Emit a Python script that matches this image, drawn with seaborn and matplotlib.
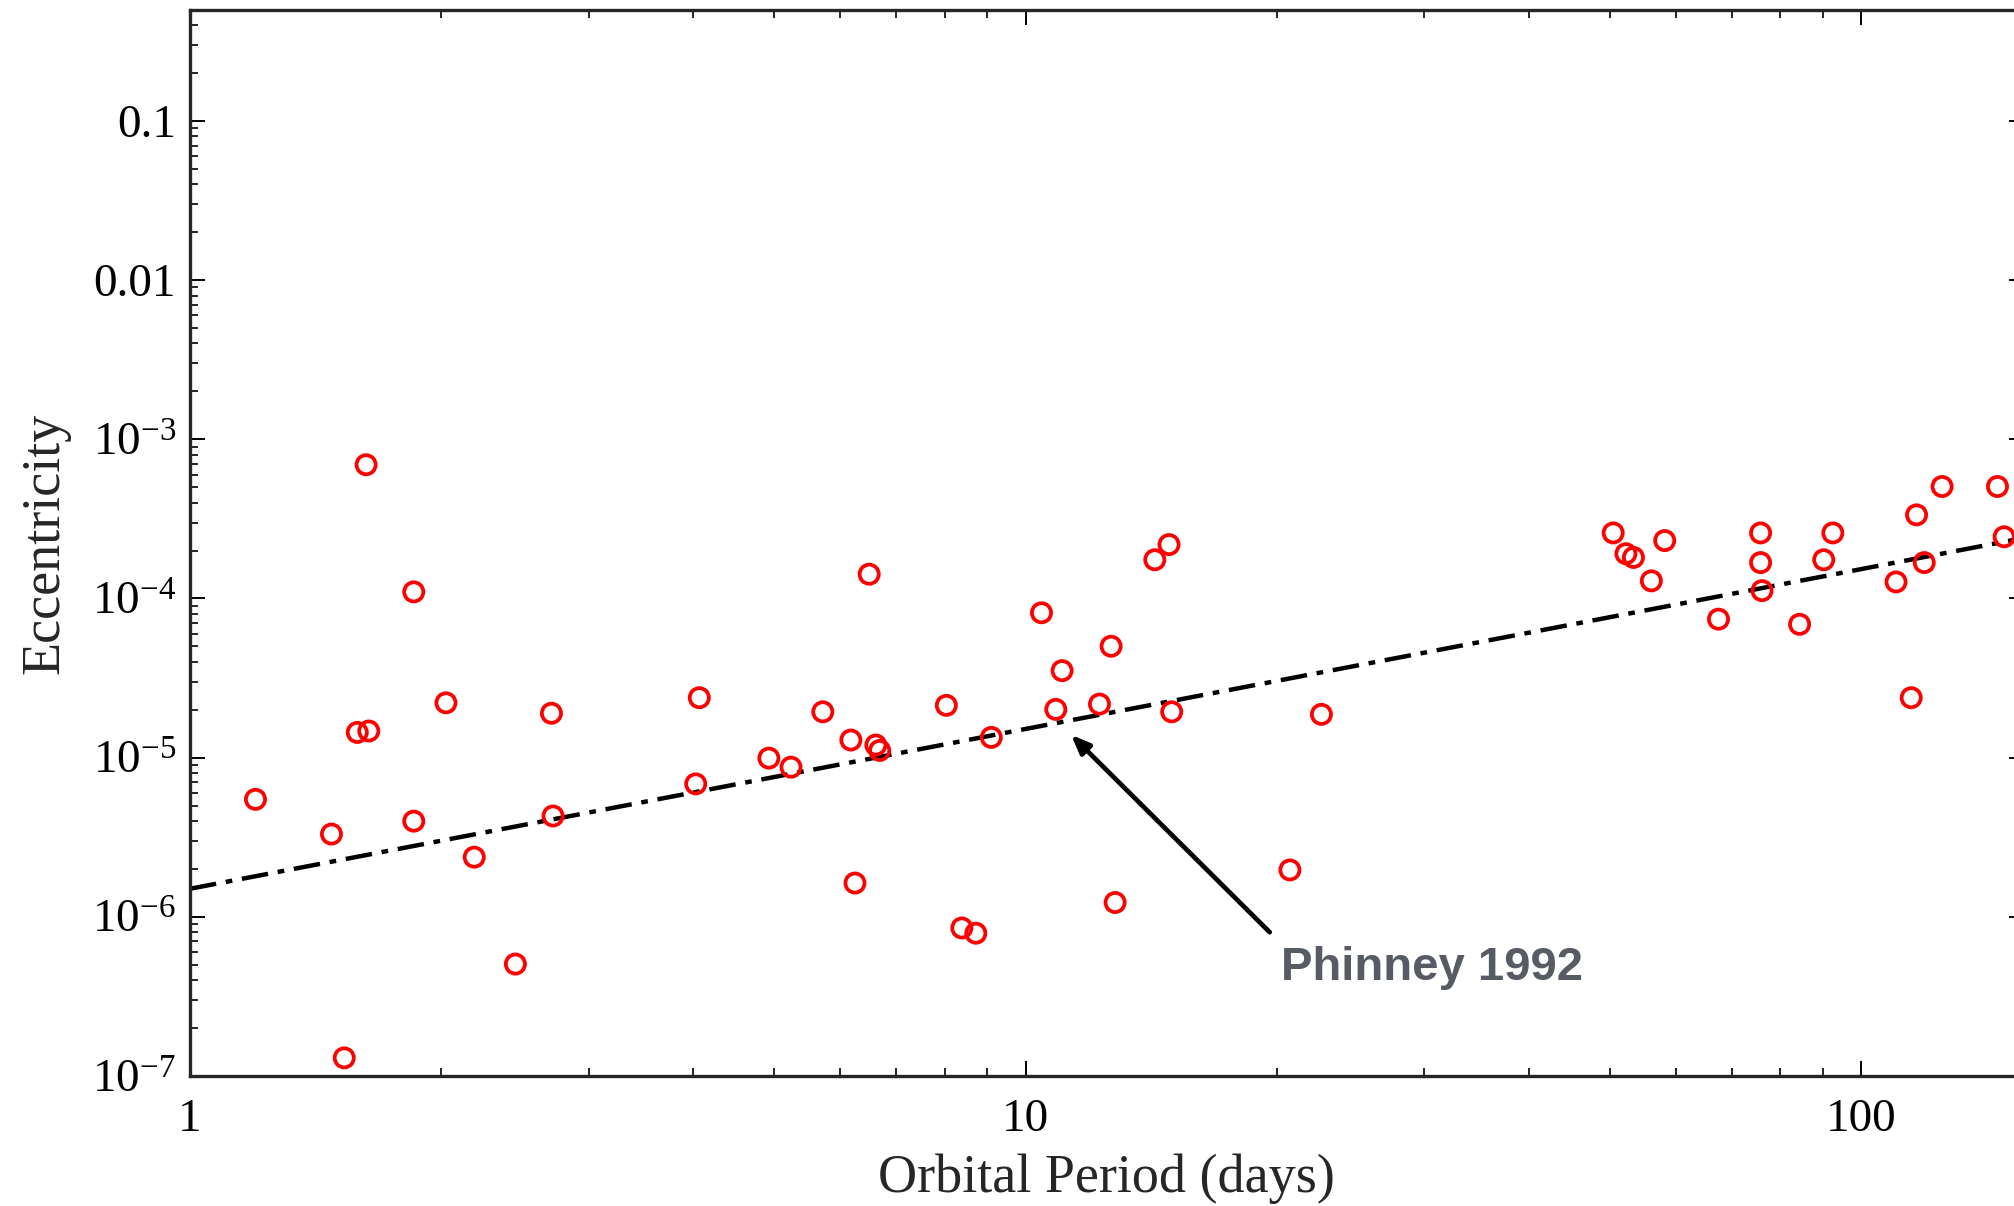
import numpy as np
import pandas as pd
import matplotlib
matplotlib.use("Agg")
import matplotlib.pyplot as plt
import matplotlib.ticker as mticker
import seaborn as sns

# Data
period = [1.198, 1.477, 1.530, 1.625, 1.586, 1.637, 1.853, 1.853, 2.025, 2.189,
          2.452, 2.708, 2.72, 4.03, 4.07, 4.93, 5.24, 5.72, 6.18, 6.25,
          6.50, 6.62, 6.69, 8.04, 8.39, 8.72, 9.10, 10.45, 10.87, 11.06,
          12.26, 12.66, 12.80, 14.28, 14.85, 14.96, 20.72, 22.6, 50.5, 52.3,
          53.4, 56.1, 58.2, 67.5, 75.8, 75.8, 76.1, 84.4, 90.2, 92.5,
          110.1, 114.8, 116.5, 119.0, 125.0, 145.6, 148.3]
eccentricity = [5.47e-6, 3.31e-6, 1.30e-7, 6.92e-4, 1.44e-5, 1.47e-5, 1.10e-4, 3.99e-6, 2.21e-5, 2.37e-6,
                5.05e-7, 1.90e-5, 4.30e-6, 6.84e-6, 2.38e-5, 9.93e-6, 8.71e-6, 1.94e-5, 1.29e-5, 1.63e-6,
                1.42e-4, 1.20e-5, 1.11e-5, 2.13e-5, 8.51e-7, 7.89e-7, 1.34e-5, 8.13e-5, 2.01e-5, 3.52e-5,
                2.17e-5, 5.01e-5, 1.23e-6, 1.75e-4, 2.18e-4, 1.94e-5, 1.97e-6, 1.87e-5, 2.58e-4, 1.91e-4,
                1.81e-4, 1.29e-4, 2.31e-4, 7.41e-5, 2.58e-4, 1.68e-4, 1.12e-4, 6.88e-5, 1.75e-4, 2.58e-4,
                1.27e-4, 2.38e-5, 3.35e-4, 1.68e-4, 5.05e-4, 5.05e-4, 2.44e-4]

# Phinney 1992 relation (endpoints)
line_period = [1.0, 160.0]
line_ecc = [1.5e-6, 2.45e-4]

x_ticks = [1, 10, 100]
x_ticklabels = ["1", "10", "100"]
y_ticks = [1e-7, 1e-6, 1e-5, 1e-4, 1e-3, 1e-2, 1e-1]
y_ticklabels = [r"$10^{-7}$", r"$10^{-6}$", r"$10^{-5}$", r"$10^{-4}$", r"$10^{-3}$", "0.01", "0.1"]

sns.set_style("ticks")
plt.rcParams.update({
    "font.family": ["Liberation Serif", "DejaVu Serif"],
    "mathtext.fontset": "custom",
    "mathtext.rm": "Liberation Serif",
    "mathtext.it": "Liberation Serif:italic",
    "mathtext.bf": "Liberation Serif:bold",
    "axes.linewidth": 2.4,
    "xtick.direction": "in",
    "ytick.direction": "in",
})

df = pd.DataFrame({"period": period, "ecc": eccentricity})
ldf = pd.DataFrame({"period": line_period, "ecc": line_ecc})

fig = plt.figure(figsize=(20.14, 12.06), dpi=100)
ax = fig.add_axes([0.0943, 0.1078, 0.9105, 0.8842])

sns.lineplot(data=ldf, x="period", y="ecc", ax=ax, color="black", linewidth=3.2,
             linestyle=(0, (6, 2.2, 1.5, 2.2)), zorder=2)
sns.scatterplot(data=df, x="period", y="ecc", ax=ax, marker="o", s=190,
                facecolor="none", edgecolor="#ff0000", linewidth=2.7, zorder=3)

ax.set_xscale("log")
ax.set_yscale("log")
ax.set_xlim(1, 156.5)
ax.set_ylim(1e-7, 0.5)

ax.xaxis.set_major_locator(mticker.FixedLocator(x_ticks))
ax.xaxis.set_major_formatter(mticker.FixedFormatter(x_ticklabels))
ax.yaxis.set_major_locator(mticker.FixedLocator(y_ticks))
ax.yaxis.set_major_formatter(mticker.FixedFormatter(y_ticklabels))
ax.xaxis.set_minor_locator(mticker.LogLocator(base=10, subs=np.arange(2, 10)))
ax.yaxis.set_minor_locator(mticker.LogLocator(base=10, subs=np.arange(2, 10)))
ax.xaxis.set_minor_formatter(mticker.NullFormatter())
ax.yaxis.set_minor_formatter(mticker.NullFormatter())

ax.tick_params(which="both", direction="in", top=True, right=True, colors="black")
ax.tick_params(which="major", length=11, width=1.4, labelsize=34)
ax.tick_params(axis="x", which="major", pad=16)
ax.tick_params(axis="y", which="major", pad=10)
ax.tick_params(which="minor", length=6, width=1.2)

for sp in ax.spines.values():
    sp.set_linewidth(2.4)
    sp.set_visible(True)

ax.set_xlabel("Orbital Period (days)", fontsize=39, labelpad=9)
ax.set_ylabel("Eccentricity", fontsize=39, labelpad=15)

ax.annotate("", xy=(11.34, 1.39e-5), xytext=(19.6, 8.0e-7),
            arrowprops=dict(arrowstyle="-|>,head_length=1.1,head_width=0.45",
                            color="black", lw=3.4, shrinkA=0, shrinkB=0))
ax.text(20.2, 4.8e-7, "Phinney 1992", fontsize=34, fontweight="bold",
        color="#575b63", family=["Liberation Sans", "DejaVu Sans"],
        ha="left", va="center")

fig.savefig("out.png", dpi=100)
